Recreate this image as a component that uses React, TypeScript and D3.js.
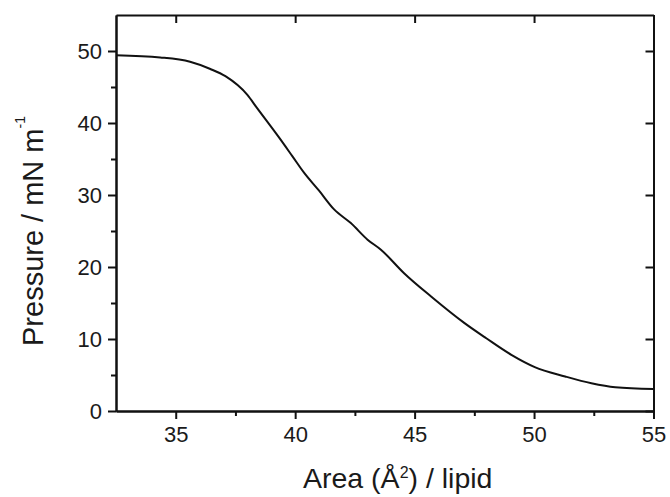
import React, { useEffect, useRef } from "react";
import * as d3 from "d3";

const areas = [32.5, 34.35, 35.6, 36.45, 37.08, 38.0, 38.4, 39.3, 39.88, 40.37, 41.0, 41.63, 42.33, 43.03, 43.59, 44.57, 45.69, 47.09, 48.0, 49.05, 50.03, 51.3, 52.4, 53.4, 55.0];
const pressures = [49.4, 49.1, 48.5, 47.5, 46.5, 43.9, 42.1, 38.1, 35.4, 33.1, 30.6, 28.0, 26.1, 23.8, 22.4, 19.1, 15.9, 12.2, 10.1, 7.8, 6.1, 4.8, 3.85, 3.3, 3.06];
const xTicks = [35, 40, 45, 50, 55];
const xMinor = [37.5, 42.5, 47.5, 52.5];
const yTicks = [0, 10, 20, 30, 40, 50];
const yMinor = [5, 15, 25, 35, 45];

const W = 670, H = 497;
const L = 116, R = 653.5, T = 15, B = 411;

export default function App() {
  const ref = useRef<SVGSVGElement>(null);
  useEffect(() => {
    const svg = d3.select(ref.current);
    svg.selectAll("*").remove();
    const x = d3.scaleLinear().domain([32.5, 55]).range([L, R]);
    const y = d3.scaleLinear().domain([0, 55]).range([B, T]);
    const font = "Arial, 'Liberation Sans', sans-serif";

    const g = svg.append("g");
    const bottom = g.append("g").attr("transform", `translate(0,${B})`)
      .call(d3.axisBottom(x).tickValues(xTicks).tickSize(8).tickSizeOuter(0).tickPadding(7).tickFormat(d3.format("d")));
    const bottomMinor = g.append("g").attr("transform", `translate(0,${B})`)
      .call(d3.axisBottom(x).tickValues(xMinor).tickSize(5).tickSizeOuter(0).tickFormat(() => ""));
    const left = g.append("g").attr("transform", `translate(${L},0)`)
      .call(d3.axisLeft(y).tickValues(yTicks).tickSize(8).tickSizeOuter(0).tickPadding(6).tickFormat(d3.format("d")));
    const leftMinor = g.append("g").attr("transform", `translate(${L},0)`)
      .call(d3.axisLeft(y).tickValues(yMinor).tickSize(5).tickSizeOuter(0).tickFormat(() => ""));
    const top = g.append("g").attr("transform", `translate(0,${T})`)
      .call(d3.axisTop(x).tickValues(xTicks).tickSize(-8).tickSizeOuter(0).tickFormat(() => ""));
    const right = g.append("g").attr("transform", `translate(${R},0)`)
      .call(d3.axisRight(y).tickValues(yTicks).tickSize(-8).tickSizeOuter(0).tickFormat(() => ""));

    [bottom, bottomMinor, left, leftMinor, top, right].forEach((a) => {
      a.attr("font-size", 22).attr("font-family", font);
      a.selectAll("path.domain").attr("stroke", "#111").attr("stroke-width", 2);
      a.selectAll(".tick line").attr("stroke", "#111").attr("stroke-width", 2);
      a.selectAll(".tick text").attr("font-family", font).attr("font-size", 22).attr("fill", "#1a1a1a");
    });

    const pts = areas.map((a, i) => [a, pressures[i]] as [number, number]);
    g.append("path")
      .datum(pts)
      .attr("fill", "none")
      .attr("stroke", "#111")
      .attr("stroke-width", 2)
      .attr("d", d3.line<[number, number]>().x((d) => x(d[0])).y((d) => y(d[1])).curve(d3.curveMonotoneX));

    const xt = svg.append("text").attr("x", 303).attr("y", 488)
      .attr("font-family", font).attr("font-size", 28.5).attr("fill", "#1a1a1a");
    xt.append("tspan").text("Area (Å");
    xt.append("tspan").attr("font-size", 16).attr("dy", -10).text("2");
    xt.append("tspan").attr("dy", 10).text(") / lipid");

    const yt = svg.append("text").attr("transform", `translate(43,346) rotate(-90)`)
      .attr("font-family", font).attr("font-size", 29).attr("fill", "#1a1a1a");
    yt.append("tspan").text("Pressure / mN m");
    yt.append("tspan").attr("font-size", 14).attr("dy", -18).text("-1");
  }, []);
  return (
    <svg ref={ref} width={W} height={H} style={{ position: "absolute", left: 0, top: 0, background: "#fff" }} />
  );
}
